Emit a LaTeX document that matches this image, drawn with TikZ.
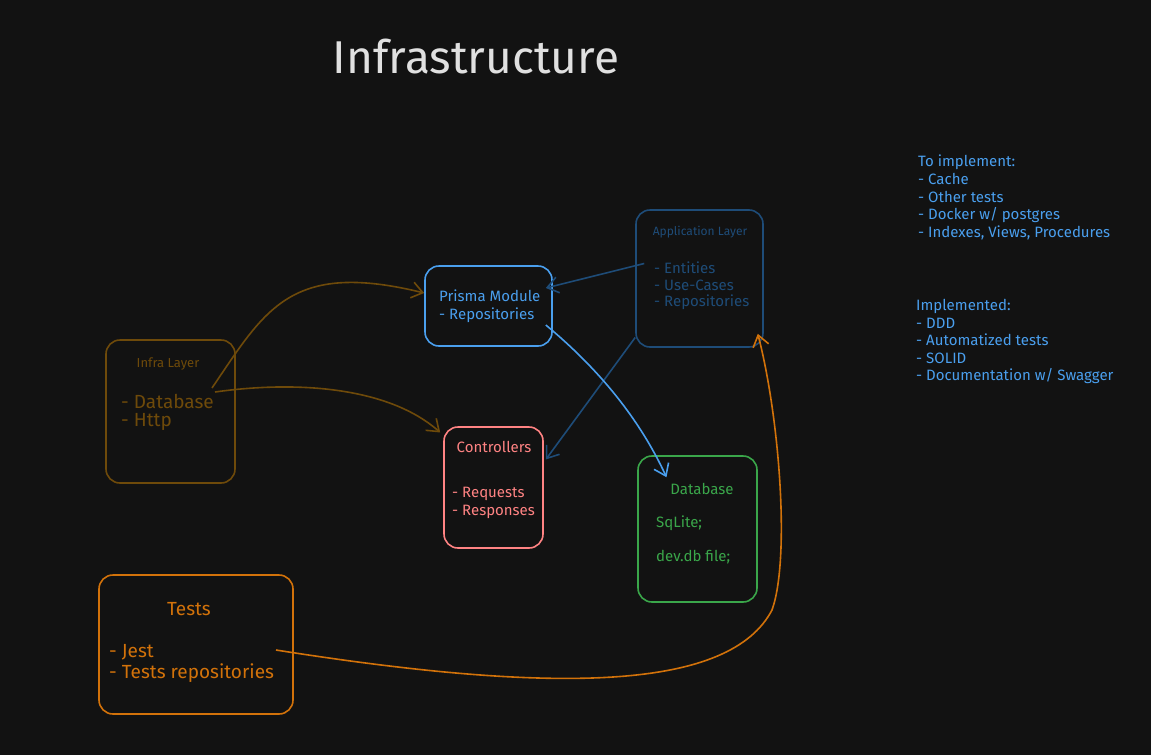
\documentclass[tikz,border=0pt]{standalone}
\usepackage{fontspec}
\setmainfont{Fira Sans}
\usetikzlibrary{arrows.meta}

\definecolor{bgcol}{HTML}{121212}
\definecolor{titlecol}{HTML}{E0E0E0}
\definecolor{infracol}{HTML}{6E4A0A}
\definecolor{prismacol}{HTML}{4A9FEE}
\definecolor{appcol}{HTML}{1E4C78}
\definecolor{ctrlcol}{HTML}{FF8383}
\definecolor{dbcol}{HTML}{3AA64A}
\definecolor{testcol}{HTML}{D2720A}
\definecolor{notecol}{HTML}{4A9FEE}

\tikzset{
  layerbox/.style={draw=#1, line width=1.6pt, rounded corners=14pt, inner sep=0pt},
  txt/.style={text=#1, inner sep=0pt, anchor=west},
  link/.style={draw=#1, line width=1.6pt, -{Straight Barb[length=11pt,width=16pt,line width=1.6pt]}}
}

\begin{document}
\begin{tikzpicture}[x=1pt,y=-1pt]
  \fill[bgcol] (0,0) rectangle (1151,755);
  \useasboundingbox (0,0) rectangle (1151,755);

  \node[text=titlecol, font=\fontsize{46}{50}\selectfont] (title) at (476,57) {Infrastructure};

  % boxes
  \node[layerbox=infracol, minimum width=129pt, minimum height=143pt] (infra) at (170.5,411.5) {};
  \node[layerbox=prismacol, minimum width=127pt, minimum height=80pt] (prisma) at (488.5,306) {};
  \node[layerbox=appcol, minimum width=127pt, minimum height=137pt] (app) at (699.5,278.5) {};
  \node[layerbox=ctrlcol, minimum width=99pt, minimum height=121pt] (ctrl) at (493.5,487.5) {};
  \node[layerbox=dbcol, minimum width=119pt, minimum height=146pt] (db) at (697.5,529) {};
  \node[layerbox=testcol, minimum width=194pt, minimum height=139pt] (tests) at (196,644.5) {};

  % texts
  \node[txt=infracol, anchor=center, font=\fontsize{13}{15}\selectfont] (infratitle) at (168,364) {Infra Layer};
  \node[txt=infracol, font=\fontsize{19}{22}\selectfont] (infradb) at (121,401) {- Database};
  \node[txt=infracol, font=\fontsize{19}{22}\selectfont] (infrahttp) at (121,422) {- Http};

  \node[txt=prismacol, font=\fontsize{15}{17}\selectfont] (prismatitle) at (439,296) {Prisma Module};
  \node[txt=prismacol, font=\fontsize{15}{17}\selectfont] (prismarepo) at (439,315) {- Repositories};

  \node[txt=appcol, anchor=center, font=\fontsize{12}{14}\selectfont] (apptitle) at (700,232) {Application Layer};
  \node[txt=appcol, font=\fontsize{15}{17}\selectfont] (appent) at (654,268) {- Entities};
  \node[txt=appcol, font=\fontsize{15}{17}\selectfont] (appuse) at (654,285) {- Use-Cases};
  \node[txt=appcol, font=\fontsize{15}{17}\selectfont] (apprepo) at (654,302) {- Repositories};

  \node[txt=ctrlcol, anchor=center, font=\fontsize{15}{17}\selectfont] (ctrltitle) at (494,447) {Controllers};
  \node[txt=ctrlcol, font=\fontsize{15}{17}\selectfont] (ctrlreq) at (452,494) {- Requests};
  \node[txt=ctrlcol, font=\fontsize{15}{17}\selectfont] (ctrlres) at (452,512) {- Responses};

  \node[txt=dbcol, anchor=center, font=\fontsize{15}{17}\selectfont] (dbtitle) at (702,489) {Database};
  \node[txt=dbcol, font=\fontsize{15}{17}\selectfont] (dbsql) at (656,523) {SqLite;};
  \node[txt=dbcol, font=\fontsize{15}{17}\selectfont] (dbfile) at (656,557) {dev.db file;};

  \node[txt=testcol, anchor=center, font=\fontsize{19}{22}\selectfont] (teststitle) at (189,609) {Tests};
  \node[txt=testcol, font=\fontsize{19}{22}\selectfont] (testsjest) at (109,652) {- Jest};
  \node[txt=testcol, font=\fontsize{19}{22}\selectfont] (testsrepo) at (109,673) {- Tests repositories};

  \node[txt=notecol, anchor=north west, align=left, font=\fontsize{15}{17.6}\selectfont] (todo) at (918,155)
    {To implement:\\- Cache\\- Other tests\\- Docker w/ postgres\\- Indexes, Views, Procedures};
  \node[txt=notecol, anchor=north west, align=left, font=\fontsize{15}{17.6}\selectfont] (done) at (916,299)
    {Implemented:\\- DDD\\- Automatized tests\\- SOLID\\- Documentation w/ Swagger};

  % connectors
  \coordinate (infraout1) at (212,388);
  \coordinate (infraout2) at (215,392);
  \coordinate (testsout) at (276,650);
  \draw[link=infracol] (infraout1) .. controls (265,310) and (290,260) .. ([yshift=13pt]prisma.west);
  \draw[link=infracol] (infraout2) .. controls (300,380) and (390,388) .. ([xshift=-3pt,yshift=55pt]ctrl.west);
  \draw[link=appcol] ([xshift=9pt,yshift=15pt]app.west) -- ([xshift=-7pt,yshift=18pt]prisma.east);
  \draw[link=appcol] ([yshift=-59pt]app.west) -- ([xshift=2pt,yshift=28pt]ctrl.east);
  \draw[link=prismacol] ([xshift=-7pt,yshift=-19pt]prisma.east) .. controls (600,370) and (640,420) .. ([xshift=-31pt,yshift=-22pt]db.north);
  \draw[link=testcol] (testsout) .. controls (560,695) and (730,690) .. (772,610)
    .. controls (790,560) and (780,420) .. ([xshift=-6pt,yshift=14pt]app.south east);
\end{tikzpicture}
\end{document}
